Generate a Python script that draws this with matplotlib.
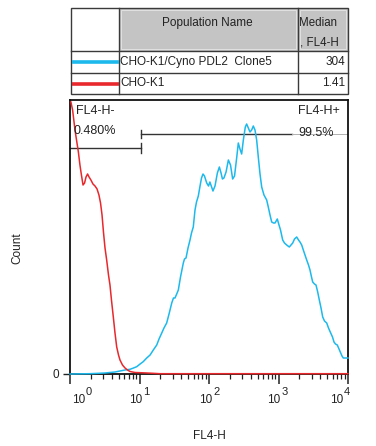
import matplotlib
matplotlib.use("Agg")
import matplotlib.pyplot as plt
import matplotlib.transforms as mtransforms
from matplotlib.patches import Rectangle
from matplotlib.ticker import LogLocator, NullFormatter, FixedLocator
import numpy as np

plt.rcParams['font.family'] = ['Liberation Sans', 'DejaVu Sans']

# ---------------- data ----------------
populations = ["CHO-K1/Cyno PDL2  Clone5", "CHO-K1"]
medians = ["304", "1.41"]
colors = ["#1cb9ec", "#e8282c"]

red_x = [1.03, 1.09, 1.18, 1.26, 1.32, 1.39, 1.46, 1.54, 1.62, 1.70, 1.79, 1.88, 2.00, 2.14,
         2.29, 2.45, 2.61, 2.75, 2.89, 3.03, 3.19, 3.37, 3.58, 3.76, 3.95, 4.20, 4.44, 4.70,
         4.99, 5.24, 5.69, 6.19, 6.72, 7.30, 8.62, 10.2, 12.8, 15.6, 19.7, 100, 1000, 10000]
red_y = [272, 264, 244, 231, 222, 209, 199, 189, 191, 197, 200, 197, 194, 190,
         188, 185, 179, 171, 159, 142, 126, 114, 99, 89, 74, 57, 41, 27,
         19, 14, 9, 6, 4, 2.5, 1.5, 1.3, 1, 0.7, 0.3, 0.3, 0.3, 0.3]

blue_x = [1.0, 1.94, 3.19, 4.44, 5.24, 6.19, 7.30, 8.20, 9.12, 10.2, 11.3, 12.7, 14.2, 15.8,
          17.7, 19.1, 20.9, 22.5, 24.6, 26.6, 29.1, 30.8, 32.4, 34.3, 36.2, 38.9, 42.7, 44.4,
          46.7, 49.9, 53.3, 56.0, 59.4, 62.9, 66.1, 70.2, 74.3, 78.0, 82.0, 86.1, 92.7, 98.4,
          103, 109, 114, 122, 132, 141, 149, 156, 164, 176, 190, 204, 219, 233, 251, 264,
          279, 295, 312, 333, 348, 368, 389, 411, 434, 459, 485, 512, 542, 573, 618, 676,
          713, 755, 798, 847, 891, 961, 1017, 1069, 1149, 1219, 1312, 1430, 1513, 1601,
          1700, 1827, 1940, 2038, 2157, 2276, 2406, 2545, 2702, 2839, 2985, 3105, 3295,
          3464, 3664, 3867, 4091, 4326, 4590, 4940, 5241, 5638, 5986, 6290, 6607, 7013,
          7425, 7855, 8200, 8557, 9060, 9680, 10000]
blue_y = [0, 0.3, 1, 2, 3, 4, 4.7, 6, 7.3, 10, 12.3, 16, 19, 24,
          29, 35, 41, 46, 51, 60, 71, 76, 76, 80, 84, 97, 111, 115,
          116, 126, 134, 141, 147, 164, 172, 178, 188, 196, 200, 198, 191, 188,
          192, 187, 183, 188, 201, 207, 201, 195, 196, 202, 214, 209, 195, 198, 217, 231,
          225, 220, 234, 247, 250, 246, 242, 244, 248, 244, 234, 217, 200, 187, 179, 174,
          167, 159, 152, 151, 151, 155, 149, 144, 134, 131, 129, 127, 129, 131,
          135, 137, 134, 132, 129, 124, 119, 114, 109, 104, 97, 92, 90,
          89, 82, 74, 66, 57, 53, 51, 46, 41, 37, 32, 30, 29,
          25, 21, 18, 16, 16, 16, 16]

x_ticks = [1, 10, 100, 1000, 10000]
x_tick_base = ["10", "10", "10", "10", "10"]
x_tick_exp = ["0", "1", "2", "3", "4"]
y_max = 274

gate_split = 10.5
neg_gate_y = 226
pos_gate_y = 240
pos_gate_text_end = 1560
neg_label, neg_pct = "FL4-H-", "0.480%"
pos_label, pos_pct = "FL4-H+", "99.5%"

# ---------------- figure ----------------
W, H = 376, 446
fig = plt.figure(figsize=(W / 100, H / 100), dpi=100)
TXT = '#222222'

def fx(px):
    return px / W

def fy(py):
    return 1 - py / H

ax = fig.add_axes([fx(70), fy(374), fx(348) - fx(70), fy(100) - fy(374)])
ax.set_xscale('log')
ax.set_xlim(1, 10000)
ax.set_ylim(0, y_max)

ax.plot(blue_x, blue_y, color=colors[0], lw=1.1, clip_on=False, zorder=4)
ax.plot(red_x, red_y, color=colors[1], lw=1.1, clip_on=False, zorder=5)

for s in ax.spines.values():
    s.set_linewidth(1.3)
    s.set_color('#111111')

ax.xaxis.set_major_locator(FixedLocator(x_ticks))
ax.xaxis.set_major_formatter(NullFormatter())
ax.xaxis.set_minor_locator(LogLocator(base=10, subs=np.arange(2, 10), numticks=20))
ax.xaxis.set_minor_formatter(NullFormatter())
ax.tick_params(axis='x', which='major', direction='out', length=7, width=1.1, colors='#222222')
ax.tick_params(axis='x', which='minor', direction='out', length=3.5, width=0.9, colors='#222222')

# tick labels drawn as "10" + raised exponent
trans = mtransforms.blended_transform_factory(ax.transData, ax.transAxes)
shifts = [15, 3, 3, 2, -5]
for xt, b, e, dx in zip(x_ticks, x_tick_base, x_tick_exp, shifts):
    tb = trans + mtransforms.ScaledTranslation(dx / 100, -29 / 100, fig.dpi_scale_trans)
    ax.text(xt, 0, b, transform=tb, ha='right', va='baseline', fontsize=8.5, color=TXT)
    te = trans + mtransforms.ScaledTranslation((dx + 1) / 100, -21 / 100, fig.dpi_scale_trans)
    ax.text(xt, 0, e, transform=te, ha='left', va='baseline', fontsize=8, color=TXT)

ax.set_yticks([0])
ax.set_yticklabels(["0"])
ax.tick_params(axis='y', direction='out', length=5, width=1.0, labelsize=8.5, pad=3, colors='#222222')

fig.text(fx(17), fy(248), "Count", rotation=90, fontsize=8.5, ha='center', va='center', color=TXT)
fig.text(fx(209), fy(436), "FL4-H", fontsize=8.5, ha='center', va='center', color=TXT)

# gates
ax.plot([1, gate_split], [neg_gate_y, neg_gate_y], color='#333333', lw=1.0, clip_on=False)
ax.plot([gate_split, gate_split], [neg_gate_y - 5, neg_gate_y + 5], color='#333333', lw=1.0)
ax.plot([gate_split, pos_gate_text_end], [pos_gate_y, pos_gate_y], color='#333333', lw=1.0)
ax.plot([pos_gate_text_end, 10000], [pos_gate_y, pos_gate_y], color='#b0b0b0', lw=0.7)
ax.plot([gate_split, gate_split], [pos_gate_y - 4, pos_gate_y + 4], color='#333333', lw=1.0)

fig.text(fx(76), fy(111.5), neg_label, fontsize=9, va='center', ha='left', color=TXT)
fig.text(fx(74), fy(131.5), neg_pct, fontsize=9, va='center', ha='left', color=TXT)
fig.text(fx(298), fy(111.5), pos_label, fontsize=9, va='center', ha='left', color=TXT)
fig.text(fx(298), fy(132.5), pos_pct, fontsize=9, va='center', ha='left', color=TXT)

# ---------------- table ----------------
tax = fig.add_axes([0, 0, 1, 1])
tax.set_xlim(0, W)
tax.set_ylim(H, 0)
tax.axis('off')

tl, tr, tt, tb_ = 71, 348, 7.5, 94
c1, c2 = 119, 298
r1, r2 = 50.5, 73
edge = '#3a3a3a'
for (x0, x1) in [(c1, c2), (c2, tr)]:
    tax.add_patch(Rectangle((x0, tt), x1 - x0, r1 - tt, facecolor='#c4c4c4', edgecolor='none'))
    tax.add_patch(Rectangle((x0 + 2, tt + 2), x1 - x0 - 4, r1 - tt - 4, facecolor='none',
                            edgecolor='#e6e6e6', lw=0.6))
tax.add_patch(Rectangle((tl, tt), tr - tl, tb_ - tt, facecolor='none', edgecolor=edge, lw=1.0))
for yy in (r1, r2):
    tax.plot([tl, tr], [yy, yy], color=edge, lw=1.0)
for xx in (c1, c2):
    tax.plot([xx, xx], [tt, tb_], color=edge, lw=1.0)

tax.text((c1 + c2) / 2 - 1, 23, "Population Name", fontsize=8.5, ha='center', va='center', color=TXT)
tax.text(c2 + 1.5, 22.5, "Median", fontsize=8.3, ha='left', va='center', color=TXT)
tax.text(c2 + 1.5, 42.5, ", FL4-H", fontsize=8.3, ha='left', va='center', color=TXT)

row_y = [62, 83.5]
for name, med, col, yy in zip(populations, medians, colors, row_y):
    tax.plot([71.5, c1], [yy, yy], color=col, lw=2.6, solid_capstyle='butt')
    tax.text(c1 + 1.5, yy, name, fontsize=8.5, ha='left', va='center', color=TXT)
    tax.text(tr - 3, yy, med, fontsize=8.5, ha='right', va='center', color=TXT)

fig.savefig("out.png", dpi=100)
